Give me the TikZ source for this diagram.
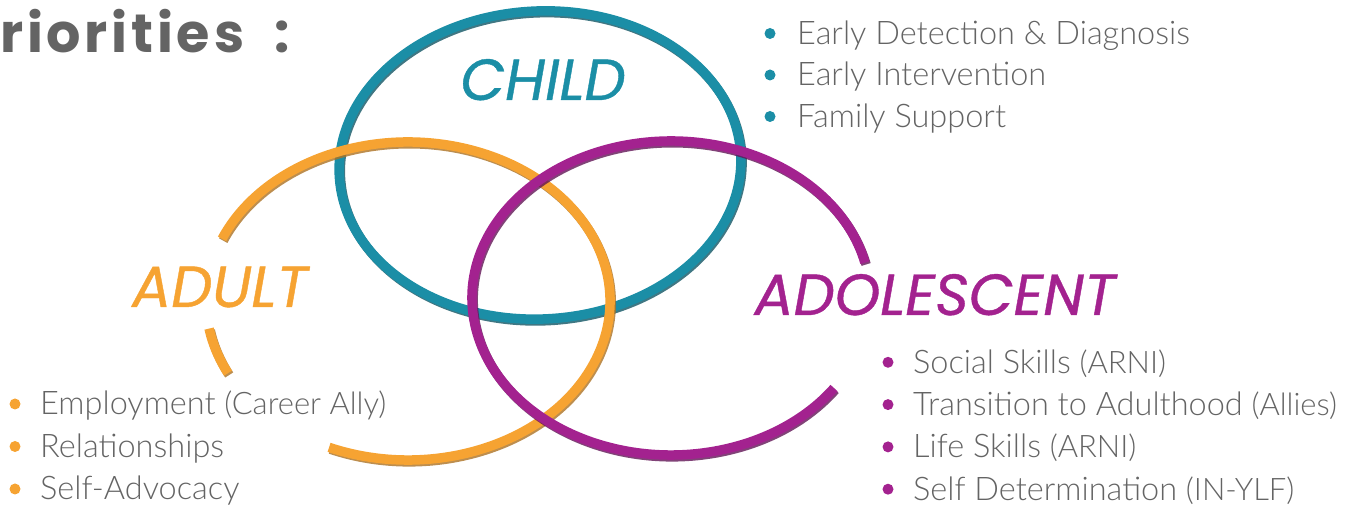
\documentclass[tikz,border=0pt]{standalone}
\usepackage{fontspec}
\usepackage{tikz}

\newfontfamily\headfont{Poppins}
\newfontfamily\listfont{Lato}[UprightFont=* Light]

\definecolor{childteal}{RGB}{27,142,166}
\definecolor{adultorange}{RGB}{246,163,50}
\definecolor{teenpurple}{RGB}{163,34,143}
\definecolor{textgray}{RGB}{100,100,100}

\newcommand\paren[1]{{\fontsize{31}{34}\selectfont #1}}

\tikzset{
    ring/.style={line width=9.5pt},
    ringshade/.style={line width=9.5pt, shift={(1.2,-1.8)}, opacity=0.8},
    agelabel/.style={font=\headfont\itshape\addfontfeature{FakeBold=0.7}\fontsize{58}{62}\selectfont, inner sep=0pt, anchor=base},
    item/.style={font=\listfont\fontsize{32.5}{36}\selectfont, text=textgray, inner sep=0pt, anchor=base west},
    dot/.style={circle, inner sep=0pt, minimum size=11pt},
}

\begin{document}
\begin{tikzpicture}[x=1pt, y=1pt]
    \useasboundingbox (0,0) rectangle (1355,511);

    % child ring (bottom layer)
    \draw[ringshade, childteal!60!black] (540,346) circle[x radius=201, y radius=154, rotate=3];
    \draw[ring, childteal] (540,346) circle[x radius=201, y radius=154, rotate=3];

    % adult ring, open at the label
    \draw[ringshade, adultorange!70!black] (408,210) ++(247:202 and 159) arc[start angle=247, end angle=517, x radius=202, y radius=159];
    \draw[ringshade, adultorange!70!black] (408,210) ++(190:202 and 159) arc[start angle=190, end angle=207, x radius=202, y radius=159];
    \draw[ring, adultorange] (408,210) ++(247:202 and 159) arc[start angle=247, end angle=517, x radius=202, y radius=159];
    \draw[ring, adultorange] (408,210) ++(190:202 and 159) arc[start angle=190, end angle=207, x radius=202, y radius=159];

    % adolescent ring (top layer)
    \draw[ringshade, teenpurple!60!black] (671,213) ++(13:199 and 157) arc[start angle=13, end angle=325, x radius=199, y radius=157];
    \draw[ring, teenpurple] (671,213) ++(13:199 and 157) arc[start angle=13, end angle=325, x radius=199, y radius=157];

    % titles
    \node[anchor=base west, inner sep=0pt, text=textgray,
          font=\headfont\bfseries\fontsize{54}{58}\selectfont\addfontfeature{LetterSpace=7}] (prio) at (0,458) {riorities\hspace{30pt}:};
    \node[agelabel, text=childteal] (child) at (543,411) {CHILD};
    \node[agelabel, text=adultorange] (adult) at (220,204) {ADULT};
    \node[agelabel, text=teenpurple] (teen) at (935,196) {ADOLESCENT};

    % lists
    \foreach \txt [count=\i] in {Early Detection \& Diagnosis, Early Intervention, Family Support} {
        \node[item] (child-\i) at (797, 508-41.5*\i) {\txt};
        \node[dot, fill=childteal] (child-dot-\i) at ([xshift=-27pt, yshift=11pt]child-\i.base west) {};
    }
    \foreach \txt [count=\i] in {Employment \paren{(Career Ally)}, Relationships, Self-Advocacy} {
        \node[item] (adult-\i) at (40, 138.5-42.5*\i) {\txt};
        \node[dot, fill=adultorange] (adult-dot-\i) at ([xshift=-25pt, yshift=11pt]adult-\i.base west) {};
    }
    \foreach \txt [count=\i] in {Social Skills \paren{(ARNI)}, Transition to Adulthood \paren{(Allies)}, Life Skills \paren{(ARNI)}, Self Determination \paren{(IN-YLF)}} {
        \node[item] (teen-\i) at (913, 180-42.3*\i) {\txt};
        \node[dot, fill=teenpurple] (teen-dot-\i) at ([xshift=-25pt, yshift=11pt]teen-\i.base west) {};
    }
\end{tikzpicture}
\end{document}
